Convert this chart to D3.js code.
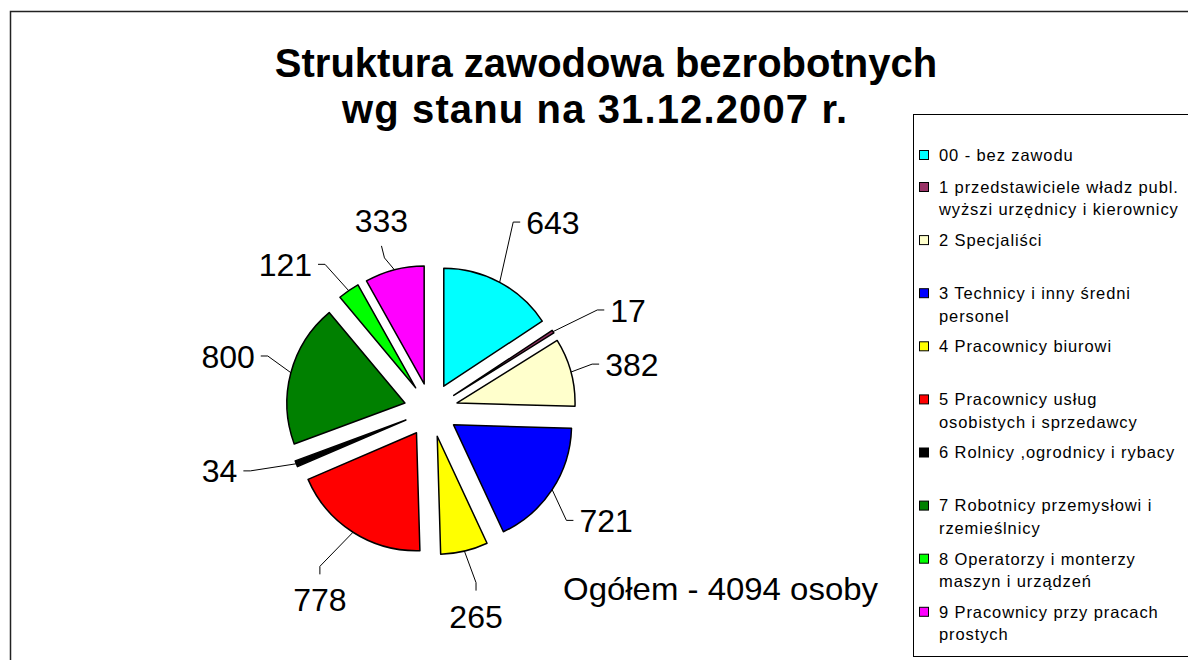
<!DOCTYPE html>
<html><head><meta charset="utf-8">
<script src="https://cdn.jsdelivr.net/npm/d3@7"></script>
<style>html,body{margin:0;padding:0;background:#fff;} svg{display:block;font-family:"Liberation Sans",Arial,sans-serif;}</style>
</head><body><svg id="c" width="1188" height="660"></svg>
<script>
// ---- data ----
const titleLines = ["Struktura zawodowa bezrobotnych", "wg stanu na 31.12.2007 r."];
const categories = [
  ["00 - bez zawodu"],
  ["1 przedstawiciele władz publ.", "wyższi urzędnicy i kierownicy"],
  ["2 Specjaliści"],
  ["3 Technicy i inny średni", "personel"],
  ["4 Pracownicy biurowi"],
  ["5 Pracownicy usług", "osobistych i sprzedawcy"],
  ["6 Rolnicy ,ogrodnicy i rybacy"],
  ["7 Robotnicy przemysłowi i", "rzemieślnicy"],
  ["8 Operatorzy i monterzy", "maszyn i urządzeń"],
  ["9 Pracownicy przy pracach", "prostych"]
];
const values = [643, 17, 382, 721, 265, 778, 34, 800, 121, 333];
const colors = ["#00FFFF", "#993366", "#FFFFCC", "#0000FF", "#FFFF00", "#FF0000", "#000000", "#008000", "#00FF00", "#FF00FF"];
const totalLabel = "Ogółem - 4094 osoby";

// ---- layout (not data) ----
const labelAdj = [4.7, 5.8, 2.3, -1.1, 1, -2.2, 5.7, 0, -10.4, 0];
const labelDist = [224, 221, 206, 207, 211, 220, 220, 210, 206, 196];
const leaderStyle = ["h", "h", "h", "h", "v", "v", "h", "h", "h", "v"];

const svg = d3.select("#c");
const W = 1188, H = 660;
svg.append("rect").attr("width", W).attr("height", H).attr("fill", "#fff");
// outer frame
svg.append("path").attr("d", `M10.5,${H+5} V11.5 H${W+5}`).attr("fill", "none").attr("stroke", "#222").attr("stroke-width", 1.5);

// title
const title = svg.append("g").attr("font-weight", "bold").attr("font-size", 40).attr("fill", "#000");
title.append("text").attr("x", 606).attr("y", 77).attr("text-anchor", "middle").text(titleLines[0]);
title.append("text").attr("x", 342).attr("y", 123).attr("textLength", 505).attr("lengthAdjust", "spacing").text(titleLines[1]);

// pie
const cx = 431, cy = 410, R = 118, explode = 27;
const pie = d3.pie().sort(null).value(d => d);
const arcs = pie(values);
const arc = d3.arc().innerRadius(0).outerRadius(R);
const g = svg.append("g").attr("transform", `translate(${cx},${cy})`);
const dir = a => [Math.sin(a), -Math.cos(a)];
g.selectAll("path.slice").data(arcs).join("path").attr("class", "slice")
  .attr("d", arc)
  .attr("transform", d => { const m = (d.startAngle + d.endAngle) / 2; const v = dir(m); return `translate(${v[0] * explode},${v[1] * explode})`; })
  .attr("fill", (d, i) => colors[i]).attr("stroke", "#000").attr("stroke-width", 1.5).attr("stroke-linejoin", "round");

// labels + leader lines
const fs = 32;
arcs.forEach((d, i) => {
  const m = (d.startAngle + d.endAngle) / 2;
  const v = dir(m);
  const p0 = [v[0] * (explode + R), v[1] * (explode + R)];
  const la = m + labelAdj[i] * Math.PI / 180;
  const lv = dir(la);
  const lc = [lv[0] * labelDist[i], lv[1] * labelDist[i]];
  const t = g.append("text").attr("x", lc[0]).attr("y", lc[1] + fs * 0.36).attr("text-anchor", "middle")
    .attr("font-size", fs).attr("fill", "#000").text(values[i]);
  const w = t.node().getComputedTextLength();
  let end, elbow;
  if (leaderStyle[i] === "h") {
    if (lc[0] > 0) { end = [lc[0] - w / 2 - 6, lc[1]]; elbow = [end[0] - 7, lc[1]]; }
    else { end = [lc[0] + w / 2 + 6, lc[1]]; elbow = [end[0] + 7, lc[1]]; }
  } else {
    if (lc[1] > 0) { end = [lc[0], lc[1] - fs * 0.36 - 14]; elbow = [end[0], end[1] - 8]; }
    else { end = [lc[0], lc[1] + fs * 0.36 + 14]; elbow = [end[0] + 3, end[1] + 12]; }
  }
  g.append("path").attr("d", d3.line()([p0, elbow, end])).attr("fill", "none").attr("stroke", "#000").attr("stroke-width", 1);
});

// total
svg.append("text").attr("x", 563).attr("y", 600).attr("font-size", 32).attr("textLength", 315).attr("lengthAdjust", "spacingAndGlyphs").text(totalLabel);

// legend
const lx = 913.5, ly = 114.5;
svg.append("rect").attr("x", lx).attr("y", ly).attr("width", 300).attr("height", 542).attr("fill", "#fff").attr("stroke", "#000").attr("stroke-width", 1);
const legY = i => i === 0 ? 155 : 187 + (i - 1) * 53.1;
const leg = svg.append("g");
categories.forEach((lines, i) => {
  const y = legY(i);
  leg.append("rect").attr("x", 919.5).attr("y", y - 4.5).attr("width", 9).attr("height", 9)
    .attr("fill", colors[i]).attr("stroke", "#000").attr("stroke-width", 1);
  const t = leg.append("text").attr("font-size", 16.5).attr("letter-spacing", 0.9).attr("fill", "#000");
  t.selectAll("tspan").data(lines).join("tspan").attr("x", 939).attr("y", (d, k) => y + 5.8 + k * 22.5).text(d => d);
});
</script></body></html>
